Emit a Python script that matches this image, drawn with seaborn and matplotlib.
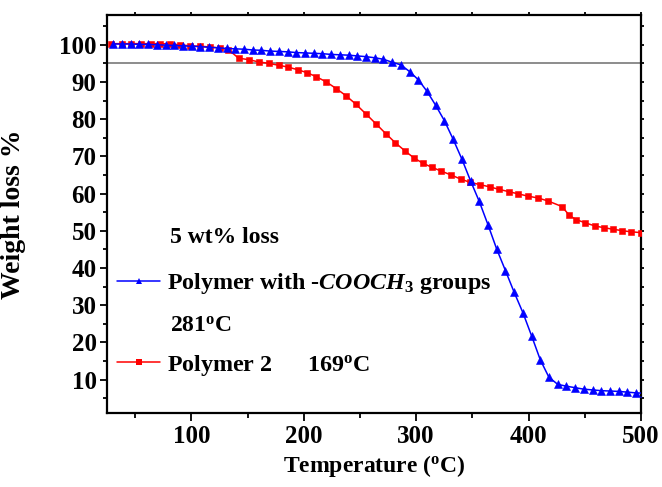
import matplotlib
matplotlib.use("Agg")
import matplotlib.pyplot as plt
from matplotlib.ticker import MultipleLocator
from matplotlib.lines import Line2D
import seaborn as sns
import pandas as pd

# ---- data ----
temp_blue = [30.6, 38.4, 46.1, 53.9, 61.6, 69.4, 77.1, 84.9, 92.6, 100.4,
             108.1, 115.9, 123.6, 131.4, 139.1, 146.9, 154.6, 162.4, 170.1, 177.9,
             185.6, 193.4, 201.1, 208.9, 216.6, 224.4, 232.1, 239.9, 247.6, 255.4,
             263.1, 270.9, 278.6, 286.4, 294.1, 301.9, 309.6, 317.4, 325.1, 332.9,
             340.6, 348.4, 356.1, 363.9, 371.6, 379.4, 387.1, 394.9, 402.6, 410.4,
             418.1, 425.9, 433.6, 441.4, 449.1, 456.9, 464.6, 472.4, 480.1, 487.9,
             495.6, 503.4]
weight_blue = [100.2, 100.2, 100.2, 100.1, 100.1, 100.0, 99.9, 99.8, 99.7, 99.6,
               99.5, 99.3, 99.2, 99.0, 98.9, 98.8, 98.6, 98.5, 98.3, 98.2,
               98.1, 97.9, 97.8, 97.7, 97.6, 97.4, 97.3, 97.2, 97.0, 96.8,
               96.5, 96.1, 95.3, 94.6, 92.8, 90.6, 87.5, 83.7, 79.6, 74.6,
               69.3, 63.4, 57.9, 51.6, 45.1, 39.3, 33.5, 28.0, 21.8, 15.3,
               10.6, 8.7, 8.2, 7.8, 7.4, 7.2, 7.0, 6.9, 6.8, 6.6,
               6.4, 6.3]

temp_red = [29.0, 38.0, 46.5, 55.0, 64.0, 72.5, 81.0, 90.0, 99.0, 108.0,
            117.0, 125.7, 133.0, 142.0, 150.9, 159.8, 168.7, 177.6, 186.0, 194.5,
            202.9, 211.2, 220.1, 229.0, 237.6, 246.1, 255.0, 264.4, 273.0, 281.3,
            289.9, 297.9, 306.2, 314.5, 322.5, 331.0, 339.5, 348.0, 356.7, 365.3,
            374.0, 382.5, 390.9, 399.5, 408.4, 417.3, 429.7, 436.3, 442.2, 450.6,
            458.9, 467.1, 475.2, 483.5, 491.5, 499.8]
weight_red = [100.3, 100.3, 100.3, 100.3, 100.3, 100.3, 100.2, 100.0, 99.7, 99.6,
              99.4, 99.1, 98.7, 96.4, 96.0, 95.4, 95.0, 94.5, 94.0, 93.3,
              92.5, 91.4, 90.0, 88.2, 86.3, 84.1, 81.5, 78.7, 76.1, 73.7,
              71.5, 69.6, 68.1, 67.0, 66.0, 65.0, 63.9, 63.0, 62.4, 61.8,
              61.1, 60.5, 59.9, 59.3, 58.8, 58.0, 56.5, 54.1, 53.0, 52.1,
              51.3, 50.8, 50.4, 50.0, 49.7, 49.5]

loss_level = 95
x_ticks = [100, 200, 300, 400, 500]
y_ticks = [10, 20, 30, 40, 50, 60, 70, 80, 90, 100]

label_blue = r"Polymer with -$\mathit{COOCH_3}$ groups"
label_red = r"Polymer 2      169$^{\mathrm{o}}$C"

# ---- style ----
sns.set_theme(style="white")
plt.rcParams["font.family"] = ["Liberation Serif", "DejaVu Serif"]
plt.rcParams["font.weight"] = "bold"
plt.rcParams["text.color"] = "black"
plt.rcParams["axes.labelcolor"] = "black"
plt.rcParams["xtick.color"] = "black"
plt.rcParams["ytick.color"] = "black"
plt.rcParams["mathtext.fontset"] = "custom"
plt.rcParams["mathtext.rm"] = "Liberation Serif:bold"
plt.rcParams["mathtext.bf"] = "Liberation Serif:bold"
plt.rcParams["mathtext.it"] = "Liberation Serif:bold:italic"

fig = plt.figure(figsize=(6.62, 4.87), dpi=100)
ax = fig.add_axes([0.1616, 0.152, 0.8067, 0.8172])

df_b = pd.DataFrame({"T": temp_blue, "W": weight_blue})
df_r = pd.DataFrame({"T": temp_red, "W": weight_red})

ax.axhline(loss_level, color="#6e6e6e", lw=1.1, zorder=1)
sns.lineplot(data=df_r, x="T", y="W", ax=ax, color="#ff0000", marker="s",
             markersize=4.3, markeredgewidth=0.4, markeredgecolor="#ff0000",
             lw=1.1, zorder=3)
sns.lineplot(data=df_b, x="T", y="W", ax=ax, color="#0000ff", marker="^",
             markersize=5.2, markeredgewidth=0.4, markeredgecolor="#0000ff",
             lw=1.1, zorder=4)

ax.set_xlim(25, 500)
ax.set_ylim(1, 108)
ax.set_xticks(x_ticks)
ax.set_yticks(y_ticks)
ax.xaxis.set_minor_locator(MultipleLocator(50))
ax.yaxis.set_minor_locator(MultipleLocator(5))

for s in ax.spines.values():
    s.set_color("black")
    s.set_linewidth(1.6)

ax.tick_params(axis="x", which="major", direction="out", length=6, width=1.3,
               pad=3.0, labelsize=18, colors="black")
ax.tick_params(axis="x", which="minor", direction="out", length=3.6, width=1.3)
ax.tick_params(axis="y", which="major", direction="out", length=5, width=1.3,
               pad=2.5, labelsize=18, colors="black")
ax.tick_params(axis="y", which="minor", direction="out", length=3, width=1.3)
ax.tick_params(axis="x", which="both", bottom=True, top=True, labeltop=False)
ax.tick_params(axis="y", which="both", left=True, right=True, labelright=False)
for t in ax.xaxis.get_major_ticks() + ax.xaxis.get_minor_ticks():
    t.tick2line.set_markersize(2)
for t in ax.yaxis.get_major_ticks() + ax.yaxis.get_minor_ticks():
    t.tick2line.set_markersize(2)

for lab in ax.get_xticklabels() + ax.get_yticklabels():
    lab.set_fontweight("bold")

ax.set_xlabel(r"Temperature ($^{\mathrm{o}}$C)", fontsize=17, fontweight="bold")
ax.set_ylabel("Weight loss %", fontsize=20, fontweight="bold")
ax.xaxis.set_label_coords(0.5, -0.1)
ax.yaxis.set_label_coords(-0.152, 0.5)

# annotations + legend
ax.text(0.118, 0.442, "5 wt% loss", transform=ax.transAxes, fontsize=17,
        fontweight="bold", va="center", ha="left")
ax.text(0.118, 0.218, r"281$^{\mathrm{o}}$C", transform=ax.transAxes,
        fontsize=17, fontweight="bold", va="center", ha="left")

h_b = Line2D([], [], color="#0000ff", marker="^", markersize=5, lw=1.1,
             markeredgewidth=0)
h_r = Line2D([], [], color="#ff0000", marker="s", markersize=4.3, lw=1.1,
             markeredgewidth=0)
leg = ax.legend([h_b, h_r], [label_blue, label_red], loc="upper left",
                bbox_to_anchor=(0.0187, 0.356), frameon=False, fontsize=17.3,
                handlelength=1.8, handletextpad=0.3, labelspacing=2.35,
                borderpad=0, borderaxespad=0)
for t in leg.get_texts():
    t.set_fontweight("bold")

fig.savefig("out.png", dpi=100)
